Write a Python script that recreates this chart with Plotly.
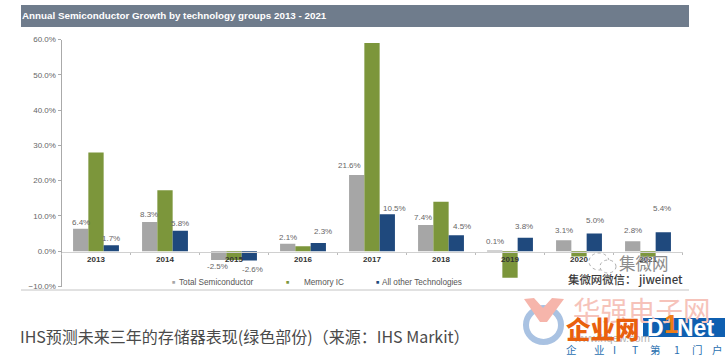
import plotly.graph_objects as go

W, H = 725, 356

years = ["2013", "2014", "2015", "2016", "2017", "2018", "2019", "2020", "2021"]
total_semi = [6.4, 8.3, -2.5, 2.1, 21.6, 7.4, 0.1, 3.1, 2.8]
memory_ic = [28.0, 17.3, -2.5, 1.4, 59.0, 14.0, -7.5, -1.5, -1.6]
other_tech = [1.7, 5.8, -2.6, 2.3, 10.5, 4.5, 3.8, 5.0, 5.4]

title_text = "Annual Semiconductor Growth by technology groups 2013 - 2021"
caption_text = "IHS预测未来三年的存储器表现(绿色部份)（来源：IHS Markit）"
tagline_chars = ["企", "业", "I", "T", "第", "1", "门", "户"]

GRAY, GREEN, BLUE = "#a6a6a6", "#7c963b", "#1f497d"
CJK = "Noto Sans CJK SC"
LATIN = "Liberation Sans"


def px(x):
    return x / W


def py(y):
    return 1 - y / H


fig = go.Figure()
for name, vals, col in [("Total Semiconductor", total_semi, GRAY),
                        ("Memory IC", memory_ic, GREEN),
                        ("All other Technologies", other_tech, BLUE)]:
    fig.add_bar(x=years, y=vals, name=name, marker=dict(color=col, line=dict(width=0)))

annotations = []

# data labels: (dx, dy) nudges from each bar's own end, as in the reference
BAR_OFFSET = 15.3
gray_nudge = [(0, 6.5), (-1, 7.4), (-1, -6.5), (0, 6), (-7, 9.3), (-3, 7.5), (0, 9.3), (0, 9.7), (0, 10.8)]
blue_nudge = [(0, 6.7), (0, 7), (3, -9), (5, 11.6), (7, 5.6), (6, 8.8), (-1, 11.3), (1, 13), (-1, 23.6)]
for vals, nudges, side in [(total_semi, gray_nudge, -1), (other_tech, blue_nudge, 1)]:
    for i, (v, (dx, dy)) in enumerate(zip(vals, nudges)):
        annotations.append(dict(
            x=i, y=v, xref="x", yref="y", text=f"{v:.1f}%", showarrow=False,
            xshift=side * BAR_OFFSET + dx, yshift=dy,
            font=dict(family=LATIN, size=8, color="#666666")))


def label(x, y, text, size, color, family=LATIN, anchor="left", **font_kw):
    annotations.append(dict(
        x=px(x), y=py(y), xref="paper", yref="paper", text=text, showarrow=False,
        xanchor=anchor, yanchor="middle", borderpad=0, borderwidth=0,
        font=dict(family=family, size=size, color=color, **font_kw)))


# legend row
for sx, tx, col, name in [(173, 179, GRAY, "Total Semiconductor"),
                          (287, 304, GREEN, "Memory IC"),
                          (377, 382, BLUE, "All other Technologies")]:
    label(sx, 282, "■", 5.5, col, anchor="center")
    label(tx, 282, name, 8.2, "#555555")

# caption and watermarks
label(20, 336, caption_text, 16, "#4a4a4a", family=CJK)
label(573, 309, "华强电子网", 27.5, "#f6c3ba", family=CJK)
label(573, 338, "www.hqew.com", 11, "#b5b5b5")
label(619, 263, "集微网", 16.5, "#8c8c8c", family=CJK)
label(568, 279, "集微网微信： jiweinet", 11.4, "#3a3a3a", family=CJK, weight=500)
label(566, 328, "企业网", 24.5, "#e9600e", family=CJK, weight=900)
label(647, 328, "D", 23, "#ffffff", weight=700)
label(664, 324, "1", 26, "#ef7d16", weight=700)
label(677, 328, "Net", 23, "#ffffff", weight=700)
for cx, ch in zip([571, 599, 614, 635, 655, 677, 697, 717], tagline_chars):
    label(cx, 349, ch, 10.5, "#2a6fb0", family=CJK, anchor="center")


def rect(x0, y0, x1, y1, color):
    return dict(type="rect", xref="paper", yref="paper", layer="below",
                x0=px(x0), x1=px(x1), y0=py(y0), y1=py(y1),
                fillcolor=color, line=dict(width=0))


shapes = [
    rect(21, 5, 689, 27, "#6f7c8c"),
    dict(type="line", xref="paper", yref="paper", layer="below",
         x0=px(21), x1=px(689), y0=py(290), y1=py(290), line=dict(color="#c4c4c4", width=1)),
    # hqew logo: ring and V
    dict(type="circle", xref="paper", yref="paper", layer="below",
         x0=px(526), x1=px(561), y0=py(342), y1=py(308),
         fillcolor="rgba(0,0,0,0)", line=dict(color="#a9c2e2", width=6)),
    dict(type="path", xref="paper", yref="paper", layer="below",
         path=f"M {px(524)} {py(299)} L {px(534)} {py(298)} L {px(543)} {py(308)} "
              f"L {px(552)} {py(298)} L {px(564)} {py(299)} L {px(547)} {py(322)} "
              f"L {px(540)} {py(322)} Z",
         fillcolor="#f6b5ab", line=dict(width=0)),
    # D1Net plate
    dict(type="rect", xref="paper", yref="paper", layer="below",
         x0=px(643), x1=px(725), y0=py(337), y1=py(318),
         fillcolor="#0f5fb0", line=dict(width=0)),
    # WeChat-style outline over the chart
    dict(type="circle", xref="paper", yref="paper", layer="above",
         x0=px(589), x1=px(609), y0=py(270), y1=py(253),
         fillcolor="#ffffff", line=dict(color="#b0b0b0", width=1, dash="dot")),
    dict(type="circle", xref="paper", yref="paper", layer="above",
         x0=px(600), x1=px(616), y0=py(273), y1=py(260),
         fillcolor="#ffffff", line=dict(color="#b0b0b0", width=1, dash="dot")),
]

fig.update_layout(
    width=W, height=H,
    margin=dict(l=0, r=0, t=0, b=0, autoexpand=False),
    paper_bgcolor="#ffffff", plot_bgcolor="rgba(0,0,0,0)",
    barmode="group", bargap=0.335, bargroupgap=0,
    showlegend=False,
    title=dict(text=title_text, x=px(22), xanchor="left", xref="paper",
               y=py(15.5), yanchor="middle", yref="paper",
               font=dict(family=LATIN, size=9.8, color="#ffffff", weight=700)),
    xaxis=dict(domain=[px(61.5), px(682.5)], anchor="free", position=py(251.7),
               type="category", tickson="boundaries", ticks="outside", ticklen=2,
               tickcolor="#bbbbbb", showline=True, linecolor="#d0d0d0", linewidth=1,
               showgrid=False, zeroline=False,
               tickfont=dict(family=LATIN, size=8, color="#333333", weight=700)),
    yaxis=dict(domain=[py(286.5), py(39.5)], range=[-10, 60], tick0=0, dtick=10,
               ticksuffix="%", tickformat=".1f", ticks="outside", ticklen=3,
               tickcolor="#aaaaaa", showline=True, linecolor="#aaaaaa", linewidth=1,
               showgrid=False, zeroline=False,
               tickfont=dict(family=LATIN, size=8, color="#666666")),
    annotations=annotations,
    shapes=shapes,
)

fig.write_html("out.html", config={"displayModeBar": False},
               post_script="document.body.style.margin='0';")
